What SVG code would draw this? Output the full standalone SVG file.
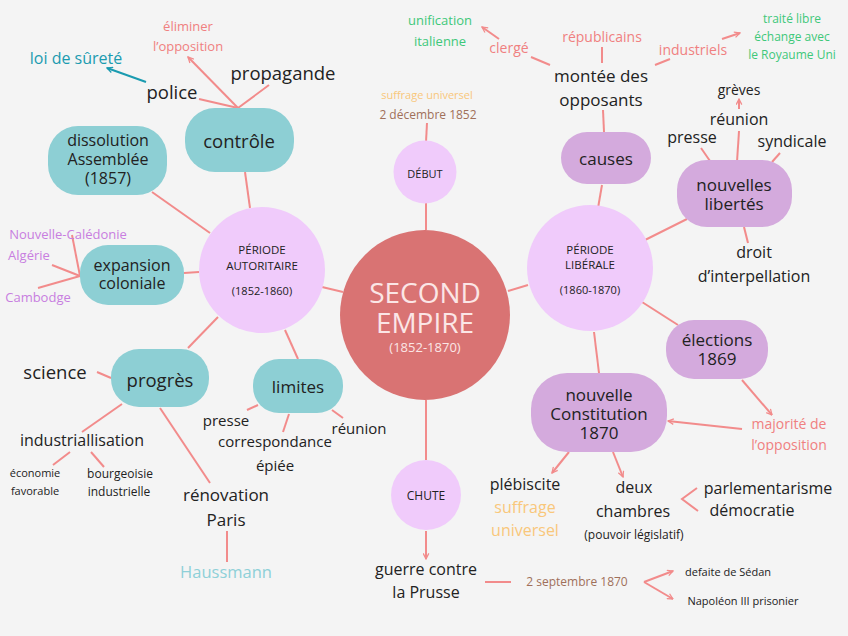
<svg xmlns="http://www.w3.org/2000/svg" width="848" height="636" viewBox="0 0 848 636">
<defs>
<marker id="ar" viewBox="0 0 10 10" refX="9" refY="5" markerWidth="7" markerHeight="7" orient="auto" markerUnits="userSpaceOnUse"><path d="M1,1 L9,5 L1,9" fill="none" stroke="#f28b8b" stroke-width="1.8"/></marker>
<marker id="art" viewBox="0 0 10 10" refX="9" refY="5" markerWidth="7" markerHeight="7" orient="auto" markerUnits="userSpaceOnUse"><path d="M1,1 L9,5 L1,9" fill="none" stroke="#1a9bb0" stroke-width="1.8"/></marker>
</defs>
<style>
text,tspan{font-family:"Open Sans","Liberation Sans",sans-serif;text-anchor:middle;dominant-baseline:central}
text{fill:#222}
.c line,.c polyline{stroke:#f28b8b;stroke-width:2;fill:none}
.a{marker-end:url(#ar)}
.teal{fill:#8dcfd4}
.purp{fill:#d4aadd}
.pink{fill:#f0cbfb}
.t18{font-size:18.5px}
.t17{font-size:17px}
.t16{font-size:16px}
.t15{font-size:15px}
.t14{font-size:14px}
.t13{font-size:13px}
.t12{font-size:12px}
.t11{font-size:11px}
.sal{fill:#f08080}
.grn{fill:#3ec87a}
.org{fill:#f9c77b}
.brn{fill:#a0705a}
.vio{fill:#c87ee0}
</style>
<rect width="848" height="636" fill="#f4f4f4"/>
<g id="connectors" class="c">
<line x1="426" y1="203" x2="426" y2="230"/>
<line x1="427" y1="123" x2="426" y2="142"/>
<line x1="426" y1="400" x2="426" y2="460"/>
<line x1="426" y1="531" x2="426" y2="559" class="a"/>
<line x1="322" y1="287" x2="343" y2="292"/>
<line x1="508" y1="291" x2="528" y2="285"/>
<line x1="245" y1="172" x2="250" y2="208"/>
<line x1="152" y1="192" x2="210" y2="233"/>
<line x1="184" y1="273" x2="199" y2="272"/>
<line x1="188" y1="348" x2="218" y2="317"/>
<line x1="285" y1="330" x2="298" y2="359"/>
<line x1="238" y1="108" x2="188" y2="57" class="a"/>
<line x1="238" y1="108" x2="269" y2="85"/>
<line x1="238" y1="108" x2="199" y2="99"/>
<line x1="146" y1="82" x2="107" y2="68" style="stroke:#1a9bb0;marker-end:url(#art)"/>
<line x1="80" y1="276" x2="72" y2="235"/>
<line x1="80" y1="276" x2="52" y2="265"/>
<line x1="80" y1="276" x2="38" y2="288"/>
<line x1="97" y1="372" x2="111" y2="378"/>
<line x1="122" y1="404" x2="82" y2="432"/>
<line x1="160" y1="408" x2="210" y2="483"/>
<line x1="227" y1="531" x2="227" y2="562"/>
<line x1="70" y1="452" x2="53" y2="465"/>
<line x1="91" y1="452" x2="104" y2="467"/>
<line x1="247" y1="410" x2="258" y2="405"/>
<line x1="289" y1="414" x2="283" y2="432"/>
<line x1="332" y1="410" x2="343" y2="418"/>
<line x1="602" y1="185" x2="598" y2="208"/>
<line x1="603" y1="110" x2="604" y2="132"/>
<line x1="645" y1="240" x2="687" y2="219"/>
<line x1="744" y1="227" x2="748" y2="243"/>
<line x1="642" y1="302" x2="678" y2="325"/>
<line x1="594" y1="332" x2="599" y2="373"/>
<line x1="742" y1="380" x2="772" y2="415" class="a"/>
<line x1="742" y1="429" x2="668" y2="421" class="a"/>
<line x1="569" y1="452" x2="552" y2="473" class="a"/>
<line x1="613" y1="452" x2="623" y2="477" class="a"/>
<polyline points="697,488 682,499 698,511"/>
<line x1="644" y1="582" x2="673" y2="571" class="a"/>
<line x1="644" y1="582" x2="673" y2="599" class="a"/>
<line x1="485" y1="582" x2="511" y2="582"/>
<line x1="602" y1="63" x2="602" y2="47"/>
<line x1="655" y1="65" x2="670" y2="59"/>
<line x1="722" y1="39" x2="740" y2="33" class="a"/>
<line x1="550" y1="65" x2="531" y2="57"/>
<line x1="499" y1="39" x2="482" y2="27" class="a"/>
<line x1="739" y1="109" x2="739" y2="99" class="a"/>
<line x1="739" y1="131" x2="737" y2="162"/>
<line x1="701" y1="148" x2="710" y2="161"/>
<line x1="780" y1="153" x2="772" y2="162"/>
</g>
<g id="second-empire">
<circle cx="425" cy="315" r="85" fill="#d97373"/>
<text style="font-size:28px;fill:#fbe6e6"><tspan x="425" y="292">SECOND</tspan><tspan x="425" y="322">EMPIRE</tspan><tspan x="425" y="347" style="font-size:13px">(1852-1870)</tspan></text>
</g>
<g id="debut">
<circle cx="425" cy="172" r="31.5" class="pink"/>
<text x="425" y="173" class="t11">DÉBUT</text>
<text x="427" y="94" class="t11 org">suffrage universel</text>
<text x="428" y="114" class="t12 brn">2 décembre 1852</text>
</g>
<g id="chute">
<circle cx="426" cy="495" r="35" class="pink"/>
<text x="426" y="495" class="t12">CHUTE</text>
<text class="t16"><tspan x="426" y="569">guerre contre</tspan><tspan x="426" y="592">la Prusse</tspan></text>
<text x="577" y="581" class="t12 brn">2 septembre 1870</text>
<text x="728" y="571" class="t11">defaite de Sédan</text>
<text x="743" y="600" class="t11">Napoléon III prisonier</text>
</g>
<g id="autoritaire">
<circle cx="262" cy="270" r="63" class="pink"/>
<text style="font-size:11.5px"><tspan x="262" y="249">PÉRIODE</tspan><tspan x="262" y="264.5">AUTORITAIRE</tspan><tspan x="262" y="290" style="font-size:11px">(1852-1860)</tspan></text>
</g>
<g id="liberale">
<circle cx="590" cy="268" r="63" class="pink"/>
<text style="font-size:11.5px"><tspan x="590" y="248.5">PÉRIODE</tspan><tspan x="590" y="264">LIBÉRALE</tspan><tspan x="590" y="289" style="font-size:11px">(1860-1870)</tspan></text>
</g>
<g id="controle">
<rect x="185" y="108" width="109" height="64" rx="30" class="teal"/>
<text x="239" y="140" class="t18">contrôle</text>
<text class="t13 sal"><tspan x="188" y="26">éliminer</tspan><tspan x="188" y="46">l’opposition</tspan></text>
<text x="283" y="72" class="t18">propagande</text>
<text x="172" y="91" class="t18">police</text>
<text x="76" y="58" style="font-size:16px;fill:#1a9bb0">loi de sûreté</text>
</g>
<g id="dissolution">
<rect x="48" y="126" width="119" height="69" rx="30" class="teal"/>
<text class="t16"><tspan x="108" y="140">dissolution</tspan><tspan x="108" y="159">Assemblée</tspan><tspan x="108" y="178">(1857)</tspan></text>
</g>
<g id="expansion">
<rect x="80" y="245" width="104" height="60" rx="28" class="teal"/>
<text class="t16"><tspan x="132" y="265">expansion</tspan><tspan x="132" y="283">coloniale</tspan></text>
<text x="68" y="234" class="t13 vio">Nouvelle-Calédonie</text>
<text x="29" y="255" class="t13 vio">Algérie</text>
<text x="38" y="297" class="t13 vio">Cambodge</text>
</g>
<g id="progres">
<rect x="111" y="349" width="98" height="58" rx="28" class="teal"/>
<text x="160" y="379" class="t18">progrès</text>
<text x="55" y="371" class="t18">science</text>
<text x="82" y="440" class="t16">industriallisation</text>
<text class="t11"><tspan x="35" y="472">économie</tspan><tspan x="35" y="490">favorable</tspan></text>
<text class="t12"><tspan x="120" y="473">bourgeoisie</tspan><tspan x="119" y="491">industrielle</tspan></text>
<text class="t17"><tspan x="226" y="494">rénovation</tspan><tspan x="226" y="519">Paris</tspan></text>
<text x="226" y="571" style="font-size:16.5px;fill:#8ed0d8">Haussmann</text>
</g>
<g id="limites">
<rect x="253" y="359" width="90" height="54" rx="26" class="teal"/>
<text x="298" y="386" class="t17">limites</text>
<text x="226" y="420" class="t15">presse</text>
<text class="t15"><tspan x="275" y="441">correspondance</tspan><tspan x="275" y="465">épiée</tspan></text>
<text x="359" y="428" class="t15">réunion</text>
</g>
<g id="causes">
<rect x="561" y="132" width="90" height="52" rx="26" class="purp"/>
<text x="606" y="158" class="t17">causes</text>
<text class="t17"><tspan x="601" y="75">montée des</tspan><tspan x="601" y="99">opposants</tspan></text>
<text x="602" y="36" class="t14 sal">républicains</text>
<text x="693" y="49" class="t14 sal">industriels</text>
<text x="509" y="47" class="t14 sal">clergé</text>
<text class="t13 grn"><tspan x="440" y="20">unification</tspan><tspan x="440" y="41">italienne</tspan></text>
<text class="t12 grn"><tspan x="792" y="18">traité libre</tspan><tspan x="792" y="36">échange avec</tspan><tspan x="792" y="54">le Royaume Uni</tspan></text>
</g>
<g id="libertes">
<rect x="677" y="160" width="115" height="67" rx="30" class="purp"/>
<text class="t17"><tspan x="734" y="184">nouvelles</tspan><tspan x="734" y="203">libertés</tspan></text>
<text x="739" y="89" class="t14">grèves</text>
<text x="739" y="119" class="t16">réunion</text>
<text x="692" y="137" class="t16">presse</text>
<text x="792" y="141" class="t16">syndicale</text>
<text class="t16"><tspan x="754" y="252">droit</tspan><tspan x="754" y="276">d’interpellation</tspan></text>
</g>
<g id="elections">
<rect x="666" y="320" width="102" height="59" rx="28" class="purp"/>
<text class="t17"><tspan x="717" y="339">élections</tspan><tspan x="717" y="358">1869</tspan></text>
<text class="t14 sal"><tspan x="789" y="423">majorité de</tspan><tspan x="789" y="444">l’opposition</tspan></text>
</g>
<g id="constitution">
<rect x="531" y="373" width="136" height="79" rx="36" class="purp"/>
<text class="t17"><tspan x="599" y="394">nouvelle</tspan><tspan x="599" y="413">Constitution</tspan><tspan x="599" y="432">1870</tspan></text>
<text x="525" y="484" class="t16">plébiscite</text>
<text class="t16 org"><tspan x="525" y="507">suffrage</tspan><tspan x="525" y="530">universel</tspan></text>
<text class="t16"><tspan x="634" y="487">deux</tspan><tspan x="633" y="511">chambres</tspan></text>
<text x="634" y="534" class="t12">(pouvoir législatif)</text>
<text x="768" y="488" class="t16">parlementarisme</text>
<text x="752" y="510" class="t16">démocratie</text>
</g>
</svg>
